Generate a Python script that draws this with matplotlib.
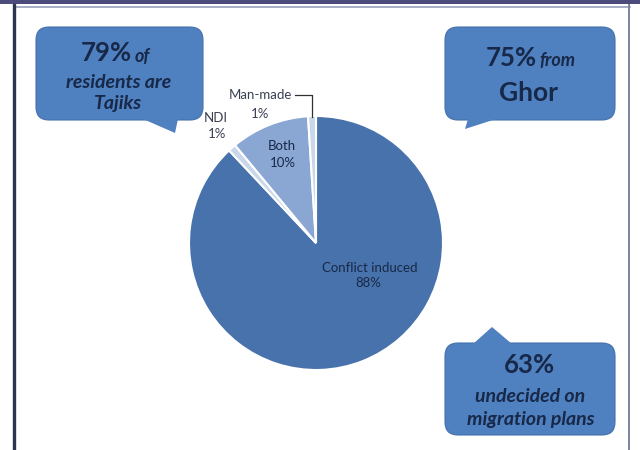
import matplotlib
matplotlib.use("Agg")
import matplotlib.pyplot as plt
from matplotlib.patches import FancyBboxPatch, Polygon, Rectangle

plt.rcParams['font.family'] = ['Lato', 'DejaVu Sans']

# pie data
categories = ['Conflict induced', 'NDI', 'Both', 'Man-made']
shares = [88, 1, 10, 1]
slice_colors = ['#4872ab', '#c9d7ea', '#8aa6d2', '#c9d7ea']

# callout texts
callout_big = ['79%', '75%', '63%']
callout_small = ['of', 'from', '']

box_col = '#4f80bf'
txt_col = '#172848'
big_fs = 18.5
ital_fs = 14

fig = plt.figure(figsize=(6.4, 4.5), dpi=100)
fig.patch.set_facecolor('white')

# pie (drawn first so labels sit on top)
cx, cy, r = 316, 243, 127
pax = fig.add_axes([(cx - r) / 640, (450 - cy - r) / 450, 2 * r / 640, 2 * r / 450])
pax.pie(shares, colors=slice_colors, startangle=90, counterclock=False,
        wedgeprops=dict(edgecolor='white', linewidth=1.5))
pax.set_xlim(-1, 1)
pax.set_ylim(-1, 1)
pax.set_aspect('auto')
pax.axis('off')

ax = fig.add_axes([0, 0, 1, 1])
ax.set_xlim(0, 640)
ax.set_ylim(450, 0)
ax.axis('off')

# slide frame
ax.add_patch(Rectangle((0, 0), 640, 4, color='#4d4b7c', lw=0))
ax.plot([14, 630], [6.5, 6.5], color='#9aa0b8', lw=1.2)
ax.plot([14, 14], [5, 450], color='#2e3550', lw=2.4)
ax.plot([629, 629], [5, 450], color='#7d84a4', lw=1.4)


def callout(x0, y0, x1, y1, tail):
    ax.add_patch(FancyBboxPatch((x0, y0), x1 - x0, y1 - y0,
                                boxstyle='round,pad=0,rounding_size=13',
                                fc=box_col, ec='#4470ab', lw=0.8, zorder=2))
    ax.add_patch(Polygon(tail, closed=True, fc=box_col, ec='none', zorder=3))


callout(36, 27, 203, 120, [(143, 119), (175, 133), (178, 119)])
callout(445, 27, 615, 120, [(468, 119), (465, 129), (496, 119)])
callout(445, 343, 615, 435, [(473, 344), (492, 327), (512, 344)])

# box 1
ax.text(132, 53, callout_big[0], ha='right', va='center', fontsize=big_fs,
        fontweight='bold', color=txt_col, zorder=4)
ax.text(135, 56, callout_small[0], ha='left', va='center', fontsize=ital_fs - 1,
        fontweight='bold', style='italic', color=txt_col, zorder=4)
ax.text(119, 82, 'residents are', ha='center', va='center', fontsize=ital_fs,
        fontweight='bold', style='italic', color=txt_col, zorder=4)
ax.text(118, 104, 'Tajiks', ha='center', va='center', fontsize=ital_fs,
        fontweight='bold', style='italic', color=txt_col, zorder=4)

# box 2
ax.text(537, 58, callout_big[1], ha='right', va='center', fontsize=big_fs,
        fontweight='bold', color=txt_col, zorder=4)
ax.text(539, 61, callout_small[1], ha='left', va='center', fontsize=ital_fs - 1,
        fontweight='bold', style='italic', color=txt_col, zorder=4)
ax.text(529, 93, 'Ghor', ha='center', va='center', fontsize=big_fs + 0.5,
        fontweight='bold', color=txt_col, zorder=4)

# box 3
ax.text(529, 365, callout_big[2], ha='center', va='center', fontsize=big_fs,
        fontweight='bold', color=txt_col, zorder=4)
ax.text(530, 396, 'undecided on', ha='center', va='center', fontsize=ital_fs,
        fontweight='bold', style='italic', color=txt_col, zorder=4)
ax.text(531, 419, 'migration plans', ha='center', va='center', fontsize=ital_fs,
        fontweight='bold', style='italic', color=txt_col, zorder=4)

# data labels
lab_col = '#3a3f52'
lab_fs = 9.5
ax.text(260, 95, 'Man-made', ha='center', va='center', fontsize=lab_fs, color=lab_col)
ax.text(260, 114, '1%', ha='center', va='center', fontsize=lab_fs, color=lab_col)
ax.plot([295, 312, 312], [95, 95, 117], color='#303030', lw=0.9)
ax.text(216, 118, 'NDI', ha='center', va='center', fontsize=lab_fs, color=lab_col)
ax.text(217, 134, '1%', ha='center', va='center', fontsize=lab_fs, color=lab_col)
ax.text(282, 146, 'Both', ha='center', va='center', fontsize=lab_fs, color=txt_col)
ax.text(283, 163, '10%', ha='center', va='center', fontsize=lab_fs, color=txt_col)
ax.text(370, 268, 'Conflict induced', ha='center', va='center', fontsize=lab_fs, color=txt_col)
ax.text(368, 283, '88%', ha='center', va='center', fontsize=lab_fs, color=txt_col)

fig.savefig('out.png', dpi=100)
